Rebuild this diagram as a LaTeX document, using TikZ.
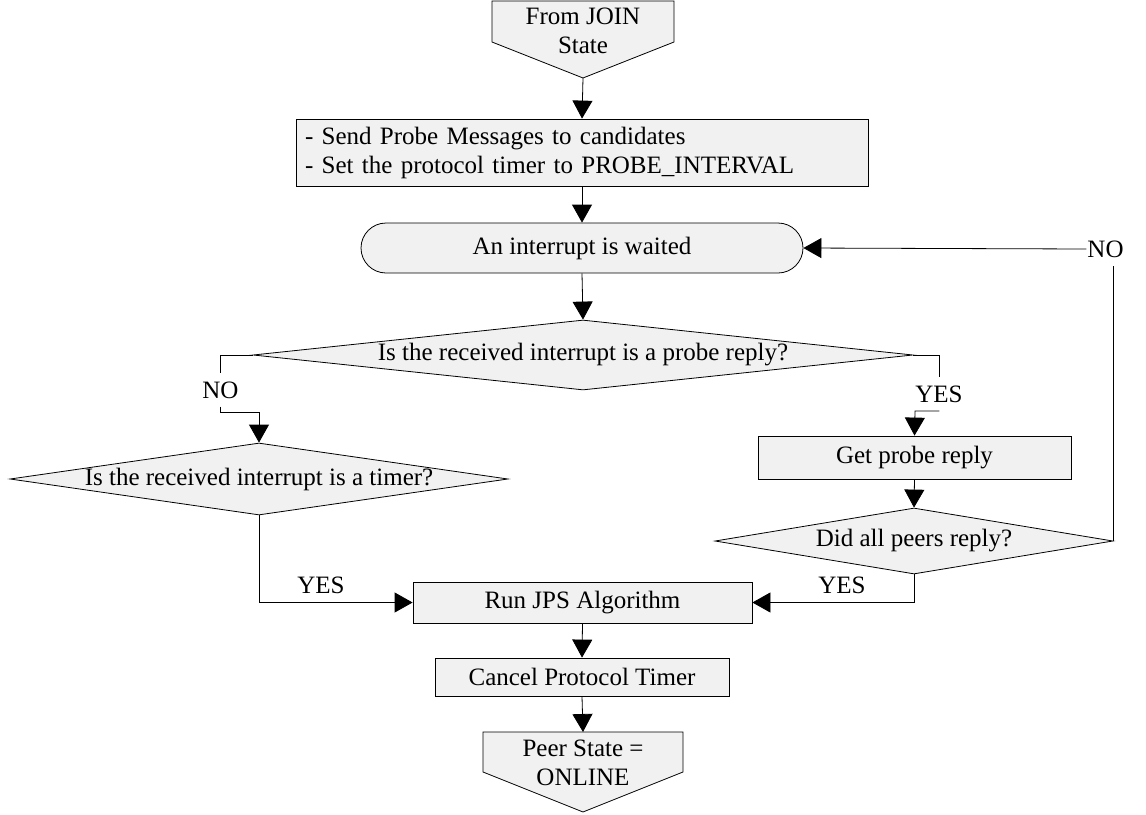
\documentclass[tikz,border=0pt]{standalone}
\usepackage{fontspec}
\setmainfont{Liberation Serif}
\usetikzlibrary{arrows.meta,shapes.geometric}
\definecolor{boxfill}{RGB}{241,241,241}
\begin{document}
\begin{tikzpicture}[x=1pt,y=-1pt,
  font=\fontsize{25}{29}\selectfont,
  shapeline/.style={draw=black,line width=0.8pt,fill=boxfill},
  procbox/.style={shapeline,rectangle,inner sep=0pt,anchor=center},
  waitbox/.style={shapeline,rectangle,rounded corners=25pt,inner sep=0pt},
  decision/.style={shapeline,diamond,inner sep=0pt},
  flow/.style={line width=0.8pt,-{Triangle[length=18pt,width=20pt]}},
  plain/.style={line width=0.8pt},
  txt/.style={align=center,inner sep=0pt},
  lbl/.style={inner xsep=1pt,inner ysep=8pt}]
\useasboundingbox (0,0) rectangle (1146,814);

% entry connector
\draw[shapeline] (492,1) -- (674,1) -- (674,42) -- (583,78) -- (492,42) -- cycle;
\node[txt] (join) at (583,31) {From JOIN\\State};
\coordinate (jointip) at (583,78);

% sending probes
\node[procbox,text width=554pt,inner xsep=9pt,align=left,minimum height=67pt]
  (send) at (582,152.5) {- Send Probe Messages to candidates\\- Set the protocol timer to PROBE\_INTERVAL};

% waiting state
\node[waitbox,minimum width=442pt,minimum height=50pt] (wait) at (582,248) {An interrupt is waited};

% decisions
\node[decision,minimum width=660pt,minimum height=70pt,
  label={[txt]center:Is the received interrupt is a probe reply?}] (d1) at (583,355) {};
\node[decision,minimum width=498pt,minimum height=72pt,
  label={[txt]center:Is the received interrupt is a timer?}] (d2) at (259,479) {};
\node[procbox,minimum width=313pt,minimum height=43pt] (get) at (914.5,457.5) {Get probe reply};
\node[decision,minimum width=398pt,minimum height=66pt,
  label={[txt]center:Did all peers reply?}] (d3) at (914,541) {};

% final steps
\node[procbox,minimum width=339pt,minimum height=41pt] (run) at (582.5,602.5) {Run JPS Algorithm};
\node[procbox,minimum width=294pt,minimum height=38pt] (cancel) at (582,677) {Cancel Protocol Timer};

% exit connector
\draw[shapeline] (483,732) -- (683,732) -- (683,772) -- (583,812) -- (483,772) -- cycle;
\coordinate (onlinetop) at (583,732);
\node[txt] (online) at (583,763) {Peer State =\\ONLINE};

% branch labels
\node[lbl] (no1) at (220.5,390) {NO};
\node[lbl] (yes1) at (939,394) {YES};
\node[lbl] (no2) at (1105.5,249) {NO};
\node (yes2) at (321,585) {YES};
\node (yes3) at (842,585) {YES};

\coordinate (k1) at (259,412);
\coordinate (k2) at (915,411);

% connectors
\draw[flow] (jointip) -- (send.north);
\draw[flow] (send.south) -- (wait.north);
\draw[flow] (wait.south) -- (d1.north);
\draw[plain] (d1.west) -| (no1.north);
\draw[flow] (no1.south) |- (k1) -- (d2.north);
\draw[plain] (d1.east) -| (yes1.north);
\draw[flow] (yes1.south) |- (k2) -- (get.north);
\draw[flow] (get.south) -- (d3.north);
\draw[flow] (d3.south) |- (run.east);
\draw[flow] (d2.south) |- (run.west);
\draw[plain] (d3.east) -- (d3.east |- no2.south);
\draw[flow] (no2.west) -- (wait.east);
\draw[flow] (run.south) -- (cancel.north);
\draw[flow] (cancel.south) -- (onlinetop);
\end{tikzpicture}
\end{document}
